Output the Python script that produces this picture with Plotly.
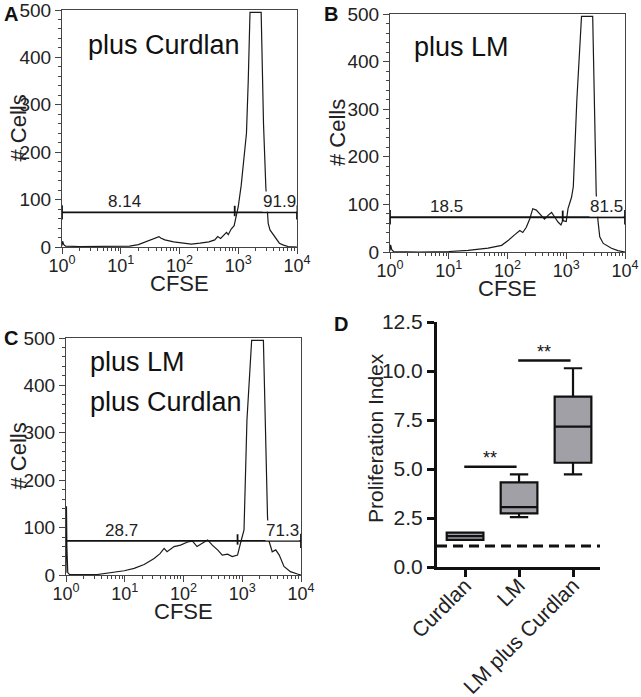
import plotly.graph_objects as go

W, H = 641, 697
FONT = "Arial, 'Liberation Sans', Helvetica, sans-serif"

# ---------------- data ----------------
# Histogram panels: CFSE (as log10 exponent) and cell counts
A_LOG_CFSE = [0.00, 0.01, 0.03, 0.06, 0.3, 0.8, 1.15, 1.3, 1.45, 1.55, 1.65, 1.68, 1.75, 1.9, 2.05,
              2.2, 2.35, 2.5, 2.6, 2.65, 2.7, 2.75, 2.8, 2.83, 2.88, 2.93, 2.97, 3.0, 3.05, 3.1,
              3.14, 3.17, 3.2, 3.39, 3.43, 3.47, 3.49, 3.51, 3.54, 3.6, 3.65, 3.7, 3.77, 3.85, 4.0]
A_COUNTS = [3, 12, 5, 2, 1, 1, 2, 5, 12, 17, 22, 19, 15, 11, 8,
            6, 8, 11, 15, 22, 18, 24, 31, 26, 38, 45, 65, 85, 130, 190,
            240, 350, 495, 495, 260, 125, 70, 50, 36, 25, 15, 8, 4, 1, 0]

B_LOG_CFSE = [0.00, 0.01, 0.03, 0.06, 0.5, 1.0, 1.33, 1.67, 1.9, 2.01, 2.12, 2.21, 2.26, 2.32, 2.38,
              2.43, 2.49, 2.58, 2.63, 2.69, 2.75, 2.80, 2.86, 2.91, 2.94, 3.0, 3.03, 3.09, 3.12, 3.18,
              3.26, 3.45, 3.51, 3.54, 3.57, 3.63, 3.71, 3.77, 3.88, 4.0]
B_COUNTS = [3, 15, 5, 1, 0, 1, 3.5, 8, 14, 24, 36, 45, 41, 52, 70,
            91, 88, 77, 69, 77, 83, 74, 63, 57, 66, 64, 91, 115, 137, 319,
            495, 495, 123, 66, 32, 18, 12, 8, 3, 0]

C_LOG_CFSE = [0.00, 0.008, 0.015, 0.03, 0.06, 0.53, 0.70, 0.99, 1.16, 1.33, 1.50, 1.60, 1.67, 1.72, 1.84,
              1.95, 2.06, 2.15, 2.23, 2.32, 2.41, 2.49, 2.58, 2.66, 2.75, 2.83, 2.92, 2.97, 3.03, 3.08,
              3.16, 3.36, 3.43, 3.455, 3.51, 3.57, 3.63, 3.71, 3.82, 3.94, 4.0]
C_COUNTS = [5, 145, 60, 5, 1, 1, 3.5, 9, 14, 22, 35, 45, 56, 49, 60,
            63, 69, 72, 60, 67, 74, 63, 53, 42, 44, 39, 42, 67, 95, 327,
            495, 495, 123, 72, 49, 53, 42, 18, 7, 2, 0]

GATE_LEVEL = [73, 73, 72]
GATE_SPLIT_LOG = [2.94, 2.94, 2.92]
PCT_LEFT = ["8.14", "18.5", "28.7"]
PCT_RIGHT = ["91.9", "81.5", "71.3"]
PANEL_TEXT = [["plus Curdlan"], ["plus LM"], ["plus LM", "plus Curdlan"]]

Y_TICKS = [0, 100, 200, 300, 400, 500]
X_TICK_EXP = [0, 1, 2, 3, 4]

# Box plot panel
CATEGORIES = ["Curdlan", "LM", "LM plus Curdlan"]
Q1 = [1.38, 2.74, 5.32]
MEDIAN = [1.58, 3.05, 7.16]
Q3 = [1.75, 4.32, 8.69]
LOWER = [1.38, 2.54, 4.73]
UPPER = [1.75, 4.73, 10.14]
BASELINE = 1.07
SIG_FROM = [0, 1]
SIG_TO = [1, 2]
SIG_LEVEL = [5.12, 10.53]
SIG_TEXT = ["**", "**"]
D_Y_TICKS = [0.0, 2.5, 5.0, 7.5, 10.0, 12.5]


def fx(p):
    return p / W


def fy(p):
    return 1 - p / H


fig = go.Figure()

# panel pixel boxes in window pixels: (left, right, top, bottom)
HIST_BOX = [(62, 297, 10, 247), (390, 625, 14, 252), (66, 301, 338, 575)]
YTITLE_X = [18, 337, 18]
HIST_DATA = [(A_LOG_CFSE, A_COUNTS), (B_LOG_CFSE, B_COUNTS), (C_LOG_CFSE, C_COUNTS)]

minor_vals = []
for e in range(4):
    for m in range(2, 10):
        minor_vals.append(m * 10 ** e)

annotations = []
layout_axes = {}

for i, ((l, r, t, b), (lx, cnt)) in enumerate(zip(HIST_BOX, HIST_DATA)):
    n = i + 1
    xa = "x" if n == 1 else f"x{n}"
    ya = "y" if n == 1 else f"y{n}"
    xk = "xaxis" if n == 1 else f"xaxis{n}"
    yk = "yaxis" if n == 1 else f"yaxis{n}"
    cfse = [10 ** e for e in lx]
    fig.add_trace(go.Scatter(x=cfse, y=cnt, mode="lines", xaxis=xa, yaxis=ya,
                             line=dict(color="#1a1a1a", width=1.2), showlegend=False,
                             hoverinfo="skip"))
    g = GATE_LEVEL[i]
    split = 10 ** GATE_SPLIT_LOG[i]
    gx = [1, 10 ** 4, None, 1, 1, None, 10 ** 4, 10 ** 4, None, split, split]
    gy = [g, g, None, g - 15, g + 15, None, g - 15, g + 15, None, g - 8, g + 14]
    fig.add_trace(go.Scatter(x=gx, y=gy, mode="lines", xaxis=xa, yaxis=ya,
                             line=dict(color="#111", width=1.8), showlegend=False,
                             hoverinfo="skip", connectgaps=False, cliponaxis=False))
    layout_axes[xk] = dict(
        type="log", range=[0, 4], domain=[fx(l), fx(r)], anchor=ya, automargin=False,
        showline=True, mirror=True, linecolor="#444", linewidth=1,
        ticks="outside", ticklen=6, tickcolor="#444", ticklabelstandoff=-4,
        tickvals=[10 ** e for e in X_TICK_EXP],
        ticktext=[f"10<sup>{e}</sup>" for e in X_TICK_EXP],
        tickfont=dict(size=18, color="#222", family=FONT), ticklabeloverflow="allow",
        minor=dict(ticks="outside", ticklen=3, tickvals=minor_vals, tickcolor="#444"),
        showgrid=False, zeroline=False, fixedrange=True,
    )
    layout_axes[yk] = dict(
        range=[0, 500], domain=[fy(b), fy(t)], anchor=xa, automargin=False,
        showline=True, mirror=True, linecolor="#444", linewidth=1,
        ticks="outside", ticklen=6, tickcolor="#444", ticklabeloverflow="allow",
        tickvals=Y_TICKS, tickfont=dict(size=19, color="#222", family=FONT),
        minor=dict(ticks="outside", ticklen=3, dtick=20, tickcolor="#444"),
        showgrid=False, zeroline=False, fixedrange=True,
    )
    # percentage labels
    annotations.append(dict(x=[1.07, 0.96, 0.94][i], y=g + 22, xref=xa, yref=ya,
                            xanchor="center", yanchor="middle",
                            text=PCT_LEFT[i], showarrow=False,
                            font=dict(size=17, color="#222", family=FONT)))
    annotations.append(dict(x=[3.71, 3.68, 3.68][i], y=g + 22, xref=xa, yref=ya,
                            xanchor="center", yanchor="middle",
                            text=PCT_RIGHT[i], showarrow=False, bgcolor="white",
                            borderpad=0,
                            font=dict(size=17, color="#222", family=FONT)))
    # axis titles
    annotations.append(dict(x=fx(YTITLE_X[i]), y=fy((t + b) / 2), xref="paper", yref="paper",
                            xanchor="center", yanchor="middle",
                            text="# Cells", textangle=-90, showarrow=False,
                            font=dict(size=22, color="#222", family=FONT)))
    annotations.append(dict(x=fx((l + r) / 2), y=fy(b + 36), xref="paper", yref="paper",
                            xanchor="center", yanchor="middle",
                            text="CFSE", showarrow=False,
                            font=dict(size=22, color="#222", family=FONT)))

# panel titles inside histograms
TEXT_POS = [(86, [45]), (412, [47]), (88, [362, 402])]
for (x0, ys), lines in zip(TEXT_POS, PANEL_TEXT):
    for yy, s in zip(ys, lines):
        annotations.append(dict(x=fx(x0), y=fy(yy), xref="paper", yref="paper",
                                xanchor="left", yanchor="middle", text=s, showarrow=False,
                                font=dict(size=27, color="#111", family=FONT)))

# panel letters
for letter, (px_, py_) in zip(["A", "B", "C", "D"], [(2, 14), (322, 14), (2, 338), (332, 324)]):
    annotations.append(dict(x=fx(px_), y=fy(py_), xref="paper", yref="paper",
                            xanchor="left", yanchor="middle", text=f"<b>{letter}</b>",
                            showarrow=False, font=dict(size=20, color="#111", family=FONT)))

# ---------------- panel D ----------------
D_L, D_R, D_T, D_B = 437, 600, 322, 567
XR = [-0.52, 2.5]

fig.add_trace(go.Box(
    x=CATEGORIES, q1=Q1, median=MEDIAN, q3=Q3, lowerfence=LOWER, upperfence=UPPER,
    xaxis="x4", yaxis="y4", fillcolor="#a0a0a6", line=dict(color="#111", width=2.2),
    width=0.68, whiskerwidth=0.5, boxpoints=False, showlegend=False, hoverinfo="skip",
))

layout_axes["xaxis4"] = dict(
    type="category", categoryorder="array", categoryarray=CATEGORIES,
    range=XR, domain=[fx(D_L), fx(D_R)], anchor="y4", automargin=False,
    showline=True, linecolor="#111", linewidth=3,
    ticks="outside", ticklen=7, tickwidth=3, tickcolor="#111",
    tickangle=-45, tickfont=dict(size=21, color="#222", family=FONT),
    ticklabelstandoff=-12, ticklabeloverflow="allow",
    showgrid=False, zeroline=False, fixedrange=True,
)
layout_axes["yaxis4"] = dict(
    range=[0, 12.5], domain=[fy(D_B), fy(D_T)], anchor="x4", automargin=False,
    showline=True, linecolor="#111", linewidth=3,
    ticks="outside", ticklen=7, tickwidth=3, tickcolor="#111",
    tickvals=D_Y_TICKS, ticktext=[f"{v:.1f}" for v in D_Y_TICKS],
    tickfont=dict(size=21, color="#222", family=FONT), ticklabeloverflow="allow",
    showgrid=False, zeroline=False, fixedrange=True,
)

annotations.append(dict(x=fx(375), y=fy(438), xref="paper", yref="paper",
                        xanchor="center", yanchor="middle",
                        text="Proliferation Index", textangle=-90, showarrow=False,
                        font=dict(size=21, color="#222", family=FONT)))


def cat_frac(c):
    return (c - XR[0]) / (XR[1] - XR[0])


shapes = [dict(type="line", xref="x4 domain", yref="y4", x0=0, x1=1, y0=BASELINE, y1=BASELINE,
               line=dict(color="#111", width=3, dash="10px,6px"))]
for a, b, lvl, txt in zip(SIG_FROM, SIG_TO, SIG_LEVEL, SIG_TEXT):
    x0 = cat_frac(a) - 0.005
    x1 = cat_frac(b) - 0.015
    shapes.append(dict(type="line", xref="x4 domain", yref="y4", x0=x0, x1=x1, y0=lvl, y1=lvl,
                       line=dict(color="#111", width=2.5)))
    annotations.append(dict(x=(x0 + x1) / 2, y=lvl, xref="x4 domain", yref="y4",
                            xanchor="center", yanchor="bottom", yshift=-3, text=txt,
                            showarrow=False, font=dict(size=18, color="#111", family=FONT)))

fig.update_layout(
    width=W, height=H, margin=dict(l=0, r=0, t=0, b=0, autoexpand=False),
    paper_bgcolor="white", plot_bgcolor="white",
    font=dict(family=FONT, color="#222"),
    annotations=annotations, shapes=shapes, showlegend=False,
    **layout_axes,
)

fig.write_html("out.html", config={"displayModeBar": False},
               post_script="document.body.style.margin='0';document.body.style.overflow='hidden';")
